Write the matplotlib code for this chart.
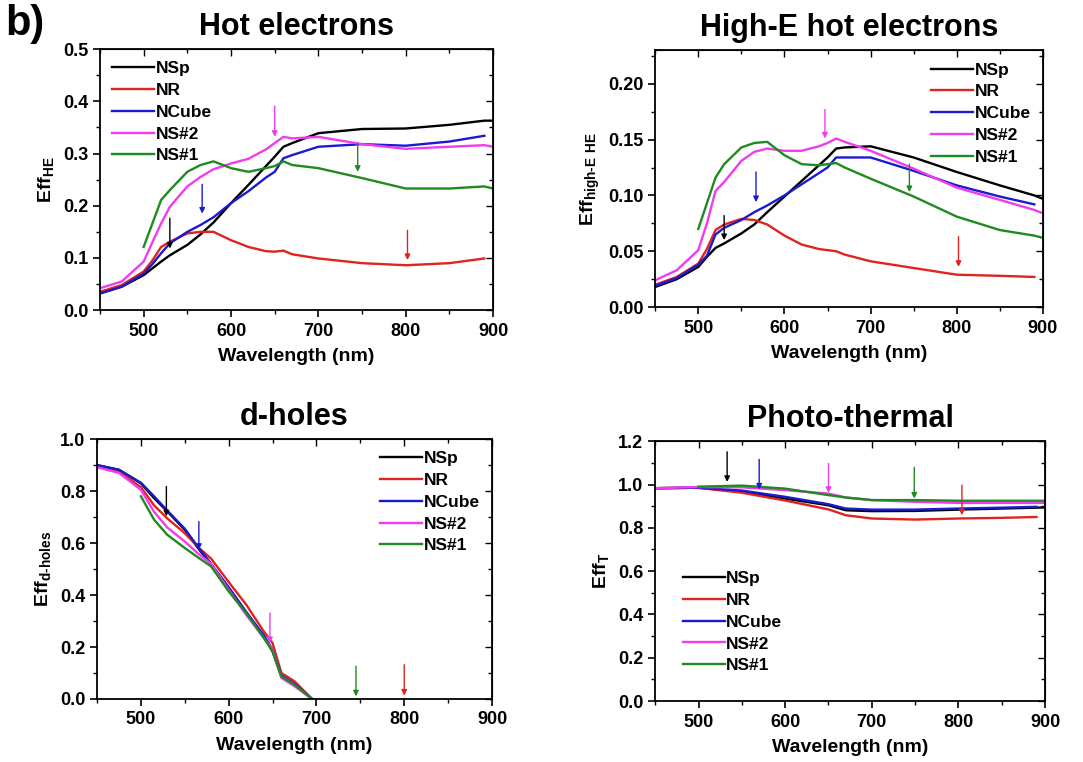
import numpy as np
import matplotlib
matplotlib.use('Agg')
import matplotlib.pyplot as plt
from matplotlib.ticker import MultipleLocator, FormatStrFormatter

plt.rcParams['font.family'] = ['Liberation Sans', 'DejaVu Sans']
plt.rcParams['font.weight'] = 'bold'
plt.rcParams['mathtext.fontset'] = 'custom'
plt.rcParams['mathtext.rm'] = 'Liberation Sans'
plt.rcParams['mathtext.bf'] = 'Liberation Sans:bold'
plt.rcParams['xtick.labelsize'] = 13
plt.rcParams['ytick.labelsize'] = 13

nan = np.nan
names = ['NSp', 'NR', 'NCube', 'NS#2', 'NS#1']
colors = ['#000000', '#e0231e', '#1a1ad0', '#f03cf0', '#1f8a1f']

# --- hot electrons / high-E hot electrons (shared wavelength grid) ---
wl = [450, 475, 500, 510, 520, 530, 550, 565, 580, 600, 620, 640, 650, 660,
      670, 700, 750, 800, 850, 890, 900]

he_nsp = [.032, .045, .067, .080, .093, .105, .125, .145, .168, .205, .240, .276, .294, .313,
          .320, .339, .347, .348, .355, .363, .363]
he_nr = [.035, .048, .074, .095, .121, .131, .147, .150, .150, .134, .121, .113, .112, .114,
         .107, .099, .090, .086, .090, .099, nan]
he_ncube = [.032, .045, .070, .088, .109, .128, .150, .163, .178, .205, .228, .254, .265, .291,
            .297, .313, .318, .315, .323, .334, nan]
he_ns2 = [.042, .055, .093, .130, .166, .198, .237, .255, .270, .281, .290, .308, .320, .332,
          .329, .332, .318, .309, .313, .316, .313]
he_ns1 = [nan, nan, .121, .166, .211, .230, .265, .278, .285, .272, .265, .272, .276, .285,
          .278, .272, .253, .233, .233, .237, .233]

hi_nsp = [.018, .025, .036, .045, .053, .057, .066, .074, .085, .099, .113, .127, .134, .142,
          .143, .144, .134, .121, .109, .100, .097]
hi_nr = [.020, .027, .039, .052, .069, .074, .079, .078, .074, .064, .056, .052, .051, .050,
         .047, .041, .035, .029, .028, .027, nan]
hi_ncube = [.019, .026, .038, .046, .065, .071, .078, .085, .091, .100, .110, .120, .125, .134,
            .134, .134, .122, .109, .099, .092, nan]
hi_ns2 = [.024, .033, .051, .075, .104, .112, .131, .139, .142, .140, .140, .144, .147, .151,
          .148, .140, .124, .107, .096, .087, .084]
hi_ns1 = [nan, nan, .070, .093, .116, .128, .143, .147, .148, .136, .128, .127, .128, .129,
          .125, .115, .099, .081, .069, .064, .062]

# --- d-holes ---
dh_wl = [450, 475, 500, 515, 530, 550, 565, 580, 600, 620, 640, 650, 660, 675, 695]
dh_nsp = [.900, .882, .830, .773, .722, .651, .581, .517, .427, .331, .241, .183, .087, .055, 0]
dh_nr = [.895, .875, .815, .745, .695, .638, .585, .540, .450, .363, .260, .215, .100, .068, 0]
dh_ncube = [.900, .882, .832, .780, .725, .655, .585, .520, .430, .335, .245, .190, .090, .058, 0]
dh_ns2 = [.892, .870, .805, .720, .660, .606, .560, .520, .420, .324, .235, .190, .081, .049, 0]
dh_ns1 = [nan, nan, .780, .690, .632, .581, .545, .510, .414, .331, .235, .183, .087, .055, 0]

# --- photo-thermal ---
pt_wl = [450, 500, 550, 600, 650, 670, 700, 750, 800, 850, 890, 900]
pt_nsp = [.983, .985, .966, .935, .904, .881, .877, .878, .884, .889, .893, .894]
pt_nr = [.983, .985, .962, .926, .885, .858, .843, .838, .843, .846, .850, nan]
pt_ncube = [.983, .985, .972, .943, .909, .889, .884, .884, .889, .893, .897, nan]
pt_ns2 = [.983, .988, .987, .974, .958, .940, .928, .920, .915, .915, .915, .915]
pt_ns1 = [nan, .990, .995, .981, .951, .940, .928, .928, .925, .925, .925, .925]

# arrows: (wavelength, tail, tip), one per sample, in legend order
he_arrows = [(530, .176, .118), (802, .153, .096), (567, .241, .185), (650, .391, .332), (745, .320, .265)]
hi_arrows = [(530, .082, .060), (802, .063, .036), (567, .121, .094), (647, .177, .151), (745, .128, .103)]
dh_arrows = [(529, .818, .703), (800, .132, .013), (566, .683, .574), (647, .331, .215), (745, .126, .010)]
pt_arrows = [(533, 1.151, 1.012), (804, .997, .858), (570, 1.116, .977), (650, 1.097, .961), (749, 1.079, .935)]


def style_axes(ax, ymax, ymajor, yfmt):
    ax.set_xlim(450, 900)
    ax.set_ylim(0, ymax)
    ax.xaxis.set_major_locator(MultipleLocator(100))
    ax.xaxis.set_minor_locator(MultipleLocator(50))
    ax.yaxis.set_major_locator(MultipleLocator(ymajor))
    ax.yaxis.set_minor_locator(MultipleLocator(ymajor / 2))
    ax.yaxis.set_major_formatter(FormatStrFormatter(yfmt))
    ax.tick_params(which='major', direction='out', length=5, width=1.2)
    ax.tick_params(which='minor', direction='out', length=3, width=1.0)
    ax.tick_params(axis='x', pad=4)
    for s in ax.spines.values():
        s.set_linewidth(1.3)
    # mirrored ticks on top and right, pointing inward
    top = ax.secondary_xaxis('top')
    top.xaxis.set_major_locator(MultipleLocator(100))
    top.xaxis.set_minor_locator(MultipleLocator(50))
    top.tick_params(which='both', direction='in', labeltop=False, width=1.0)
    top.tick_params(which='major', length=5)
    top.tick_params(which='minor', length=3)
    right = ax.secondary_yaxis('right')
    right.yaxis.set_major_locator(MultipleLocator(ymajor))
    right.yaxis.set_minor_locator(MultipleLocator(ymajor / 2))
    right.tick_params(which='both', direction='in', labelright=False, width=1.0)
    right.tick_params(which='major', length=5)
    right.tick_params(which='minor', length=3)
    ax.set_xlabel('Wavelength (nm)', fontsize=14, fontweight='bold', labelpad=6)


def draw(ax, x, series, arrows, title, ylabel, ymax, ymajor, yfmt, legend_kw):
    for y, name, c in zip(series, names, colors):
        ax.plot(x, y, color=c, lw=1.7, label=name)
    for (xa, y0, y1), c in zip(arrows, colors):
        ax.annotate('', xy=(xa, y1), xytext=(xa, y0),
                    arrowprops=dict(arrowstyle='-|>', color=c, lw=1.0,
                                    mutation_scale=8, shrinkA=0, shrinkB=0))
    style_axes(ax, ymax, ymajor, yfmt)
    ax.set_title(title, fontsize=22, fontweight='bold', pad=10)
    ax.set_ylabel(ylabel, fontsize=14, fontweight='bold')
    ax.legend(frameon=False, handlelength=2.4, handletextpad=0.1,
              labelspacing=0.38, borderaxespad=0.3, prop={'weight': 'bold', 'size': 12.5},
              **legend_kw)


fig = plt.figure(figsize=(10.83, 7.62), dpi=100)

ax1 = fig.add_axes([0.0923, 0.593, 0.363, 0.3425])
ax2 = fig.add_axes([0.605, 0.597, 0.358, 0.337])
ax3 = fig.add_axes([0.0896, 0.0827, 0.3647, 0.341])
ax4 = fig.add_axes([0.605, 0.080, 0.360, 0.341])

draw(ax1, wl, [he_nsp, he_nr, he_ncube, he_ns2, he_ns1], he_arrows,
     'Hot electrons', r'Eff$_{\rm HE}$', 0.5, 0.1, '%.1f', dict(loc='upper left'))
draw(ax2, wl, [hi_nsp, hi_nr, hi_ncube, hi_ns2, hi_ns1], hi_arrows,
     'High-E hot electrons', r'Eff$_{\rm high\text{-}E\ HE}$', 0.23, 0.05, '%.2f', dict(loc='upper right'))
draw(ax3, dh_wl, [dh_nsp, dh_nr, dh_ncube, dh_ns2, dh_ns1], dh_arrows,
     'd-holes', r'Eff$_{\rm d\text{-}holes}$', 1.0, 0.2, '%.1f', dict(loc='upper right'))
draw(ax4, pt_wl, [pt_nsp, pt_nr, pt_ncube, pt_ns2, pt_ns1], pt_arrows,
     'Photo-thermal', r'Eff$_{\rm T}$', 1.2, 0.2, '%.1f',
     dict(loc='lower left', bbox_to_anchor=(0.04, 0.06)))

fig.text(0.005, 0.968, 'b)', fontsize=30, fontweight='bold', va='center', ha='left')

fig.savefig('out.png', dpi=100)
